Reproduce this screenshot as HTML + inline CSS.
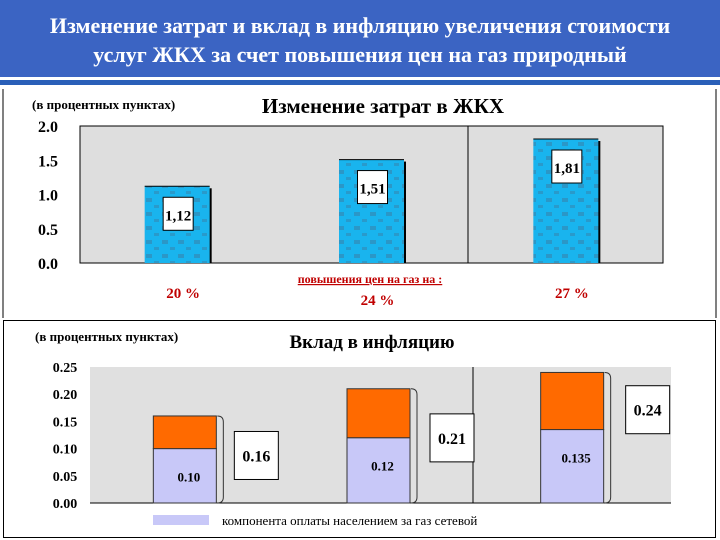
<!DOCTYPE html>
<html><head><meta charset="utf-8">
<style>
body{margin:0;width:720px;height:540px;overflow:hidden;background:#fff;font-family:"Liberation Serif",serif;}
svg{display:block}
</style></head>
<body>
<svg width="720" height="540" viewBox="0 0 720 540">
<defs>
<pattern id="dots" width="16" height="14" patternUnits="userSpaceOnUse">
<rect width="16" height="14" fill="#19b4ee"/>
<rect x="2" y="2" width="6" height="4" fill="#3a7fa8" opacity="0.55"/>
<rect x="10" y="9" width="5" height="3" fill="#3a7fa8" opacity="0.5"/>
</pattern>
</defs>
<rect x="0" y="0" width="720" height="77" fill="#3b64c3"/>
<rect x="0" y="80" width="720" height="5" fill="#2a5fb8"/>
<text x="360" y="33" text-anchor="middle" fill="#fff" font-weight="bold" font-size="22">Изменение затрат и вклад в инфляцию увеличения стоимости</text>
<text x="360" y="62" text-anchor="middle" fill="#fff" font-weight="bold" font-size="22">услуг ЖКХ за счет повышения цен на газ природный</text>
<line x1="3" y1="89" x2="3" y2="318" stroke="#000" stroke-width="1"/>
<line x1="716" y1="89" x2="716" y2="318" stroke="#000" stroke-width="1"/>
<rect x="3.5" y="320.5" width="712" height="217" fill="none" stroke="#000" stroke-width="1"/>
<g id="top"></g>
<g id="bot"></g>
</svg>
<script>
const NS="http://www.w3.org/2000/svg";
const topCats=["20 %","24 %","27 %"];
const topVals=[1.12,1.51,1.81];
const topTicks=[0,0.5,1.0,1.5,2.0];
const botBase=[0.10,0.12,0.135];
const botTotal=[0.16,0.21,0.24];
const botBaseLabels=["0.10","0.12","0.135"];
const botTotalLabels=["0.16","0.21","0.24"];
const botTicks=[0,0.05,0.10,0.15,0.20,0.25];

function el(parent,tag,attrs,text){const e=document.createElementNS(NS,tag);for(const k in attrs)e.setAttribute(k,attrs[k]);if(text!==undefined)e.textContent=text;parent.appendChild(e);return e;}

// top chart
const T=document.getElementById('top');
const tx0=80,tx1=663,ty0=263,ty1=126,tmax=2.0;
const ty=v=>ty0-(v/tmax)*(ty0-ty1);
const tband=(tx1-tx0)/3;
let p=el(T,'rect',{x:tx0,y:ty1,width:tx1-tx0,height:ty0-ty1,fill:'#dedede',stroke:'#000','stroke-width':1});

el(T,'line',{x1:468,y1:ty1,x2:468,y2:ty0,stroke:'#000','stroke-width':1});
let t=el(T,'text',{x:32,y:109,'font-size':13,'font-weight':'bold'},'(в процентных пунктах)');

t=el(T,'text',{x:383,y:113,'font-size':21,'font-weight':'bold','text-anchor':'middle'},'Изменение затрат в ЖКХ');

topTicks.forEach(v=>{const e=el(T,'text',{x:48,y:ty(v)+6,'font-size':16,'font-weight':'bold','text-anchor':'middle'},v.toFixed(1));
});
const tlabY=[298,305,298];
topVals.forEach((v,i)=>{
 const cx=tx0+tband*(i+0.5)+0; const w=65; const x=cx-w/2;
 el(T,'rect',{x:x+w-1,y:ty(v)+2,width:3,height:ty0-ty(v)-2,fill:'#000'});
 const b=el(T,'rect',{x:x,y:ty(v),width:w,height:ty0-ty(v),fill:'url(#dots)'});
 
 el(T,'line',{x1:x,y1:ty(v),x2:x+w,y2:ty(v),stroke:'#000','stroke-width':1});
 const bx=el(T,'rect',{x:cx-14,y:ty(v)+11,width:30,height:33,fill:'#fff',stroke:'#000','stroke-width':1});
 
 const lt=el(T,'text',{x:cx+1,y:ty(v)+34,'font-size':15,'font-weight':'bold','text-anchor':'middle'},v.toFixed(2).replace('.',','));
 
 const c=el(T,'text',{x:cx+6,y:tlabY[i],'font-size':15,'font-weight':'bold',fill:'#c00000','text-anchor':'middle'},topCats[i]);
 
});
t=el(T,'text',{x:370,y:283,'font-size':12,'font-weight':'bold',fill:'#c00000','text-anchor':'middle','text-decoration':'underline'},'повышения цен на газ на :');


// bottom chart
const B=document.getElementById('bot');
const bx0=90,bx1=671,by0=503,by1=367,bmax=0.25;
const by=v=>by0-(v/bmax)*(by0-by1);
const bband=(bx1-bx0)/3;
p=el(B,'rect',{x:bx0,y:by1,width:bx1-bx0,height:by0-by1,fill:'#e0e0e0'});

el(B,'line',{x1:bx0,y1:by0,x2:bx1,y2:by0,stroke:'#000','stroke-width':1});
el(B,'line',{x1:473,y1:by1,x2:473,y2:by0,stroke:'#000','stroke-width':1});
t=el(B,'text',{x:35,y:341,'font-size':13,'font-weight':'bold'},'(в процентных пунктах)');

t=el(B,'text',{x:372,y:348,'font-size':19,'font-weight':'bold','text-anchor':'middle'},'Вклад  в инфляцию');

botTicks.forEach(v=>{const e=el(B,'text',{x:65,y:by(v)+5,'font-size':14,'font-weight':'bold','text-anchor':'middle'},v.toFixed(2));
});
const boxOff=[[17,-4],[19,-8],[21,-28]];
botBase.forEach((v,i)=>{
 const cx=bx0+bband*(i+0.5)-2; const w=63; const x=cx-w/2;
 const r1=el(B,'rect',{x:x,y:by(v),width:w,height:by0-by(v),fill:'#c8c8f8',stroke:'#333','stroke-width':1});
 
 const r2=el(B,'rect',{x:x,y:by(botTotal[i]),width:w,height:by(v)-by(botTotal[i]),fill:'#ff6a00',stroke:'#333','stroke-width':1});
 
 const l=el(B,'text',{x:cx+4,y:by(v)+33,'font-size':13,'font-weight':'bold','text-anchor':'middle'},botBaseLabels[i]);
 
 const top=by(botTotal[i]),bot=by0,bx=x+w+1;
 const br=el(B,'path',{d:`M${bx} ${top} q6 0 6 6 L${bx+6} ${bot-6} q0 6 -6 6`,fill:'none',stroke:'#333','stroke-width':1});
 
 const mid=(top+bot)/2+boxOff[i][1];
 const bb=el(B,'rect',{x:bx+boxOff[i][0],y:mid-24,width:44,height:48,fill:'#fff',stroke:'#000','stroke-width':1});
 
 const tl=el(B,'text',{x:bx+boxOff[i][0]+22,y:mid+6,'font-size':16,'font-weight':'bold','text-anchor':'middle'},botTotalLabels[i]);
 
});
const sw=el(B,'rect',{x:153,y:515,width:56,height:10,fill:'#c8c8f8'});

t=el(B,'text',{x:222,y:525,'font-size':13},'компонента оплаты населением за газ сетевой');

</script>
</body></html>
